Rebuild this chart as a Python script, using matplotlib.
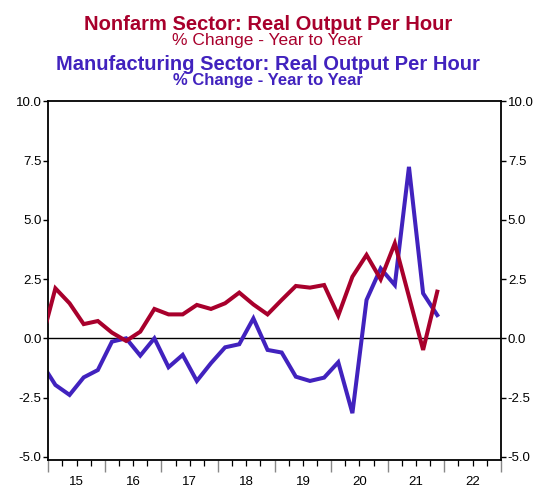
import numpy as np
import matplotlib
matplotlib.use("Agg")
from matplotlib import pyplot as plt
from matplotlib.ticker import FixedLocator, NullFormatter, FormatStrFormatter

plt.rcParams['font.family'] = ['Liberation Sans', 'DejaVu Sans']

# quarterly, 2014Q4 .. 2021Q4 (year over year % change)
quarters = ["2014Q4",
            "2015Q1", "2015Q2", "2015Q3", "2015Q4",
            "2016Q1", "2016Q2", "2016Q3", "2016Q4",
            "2017Q1", "2017Q2", "2017Q3", "2017Q4",
            "2018Q1", "2018Q2", "2018Q3", "2018Q4",
            "2019Q1", "2019Q2", "2019Q3", "2019Q4",
            "2020Q1", "2020Q2", "2020Q3", "2020Q4",
            "2021Q1", "2021Q2", "2021Q3", "2021Q4"]
nonfarm = [-0.15,
           2.11, 1.48, 0.60, 0.73,
           0.24, -0.11, 0.28, 1.24,
           1.01, 1.01, 1.41, 1.24,
           1.48, 1.93, 1.43, 1.01,
           1.62, 2.21, 2.14, 2.25,
           0.96, 2.60, 3.52, 2.49,
           4.01, 1.76, -0.49, 1.97]
manufacturing = [-1.03,
                 -1.97, -2.39, -1.65, -1.34,
                 -0.14, 0.00, -0.73, 0.00,
                 -1.22, -0.70, -1.80, -1.05,
                 -0.38, -0.25, 0.84, -0.49,
                 -0.60, -1.62, -1.80, -1.66,
                 -1.01, -3.16, 1.62, 2.95,
                 2.25, 7.24, 1.90, 0.98]
year_labels = ["15", "16", "17", "18", "19", "20", "21", "22"]
yticks = [-5.0, -2.5, 0.0, 2.5, 5.0, 7.5, 10.0]

red = '#A8002C'
blue = '#4122BE'

# position each quarter at its middle
xs = np.array([int(q[:4]) + (int(q[5]) - 0.5) / 4 for q in quarters])

fig = plt.figure(figsize=(5.34, 4.88), dpi=100)
ax = fig.add_axes([0.0905, 0.0568, 0.8475, 0.7362])

ax.axhline(0, color='black', lw=1.0, zorder=1)
ax.plot(xs, manufacturing, color=blue, lw=2.9, zorder=2, solid_joinstyle='miter')
ax.plot(xs, nonfarm, color=red, lw=2.9, zorder=3, solid_joinstyle='miter')

ax.set_xlim(2015, 2023)
ax.set_ylim(-5.15, 10.02)

# x axis: year ticks long gray, quarter ticks short, labels mid year
ax.xaxis.set_major_locator(FixedLocator(np.arange(2015, 2024)))
ax.xaxis.set_major_formatter(NullFormatter())
ax.xaxis.set_minor_locator(FixedLocator([y + q / 4 for y in range(2015, 2023) for q in (1, 2, 3)]))
ax.tick_params(axis='x', which='major', length=8.5, width=1.0, color='#888888', direction='out')
ax.tick_params(axis='x', which='minor', length=4.3, width=0.9, color='black', direction='out')
for i, lab in enumerate(year_labels):
    ax.text(2015.5 + i, -0.045, lab, transform=ax.get_xaxis_transform(),
            ha='center', va='top', fontsize=9.5)

ax.yaxis.set_major_locator(FixedLocator(yticks))
ax.yaxis.set_major_formatter(FormatStrFormatter('%.1f'))
ax.tick_params(axis='y', which='both', left=True, right=True, labelleft=True, labelright=True,
               length=3.5, width=1.0, direction='out', labelsize=9.5, pad=1.5)

for s in ax.spines.values():
    s.set_linewidth(1.3)
    s.set_color('black')

fig.text(0.502, 1 - 29.5 / 488, "Nonfarm Sector: Real Output Per Hour", color=red,
         fontsize=14.5, fontweight='bold', ha='center', va='baseline')
fig.text(0.501, 1 - 44.5 / 488, "% Change - Year to Year", color=red,
         fontsize=12.5, ha='center', va='baseline')
fig.text(0.502, 1 - 69.5 / 488, "Manufacturing Sector: Real Output Per Hour", color=blue,
         fontsize=14.5, fontweight='bold', ha='center', va='baseline')
fig.text(0.501, 1 - 84.5 / 488, "% Change - Year to Year", color=blue,
         fontsize=12, fontweight='bold', ha='center', va='baseline')

fig.savefig("out.png", dpi=100)
